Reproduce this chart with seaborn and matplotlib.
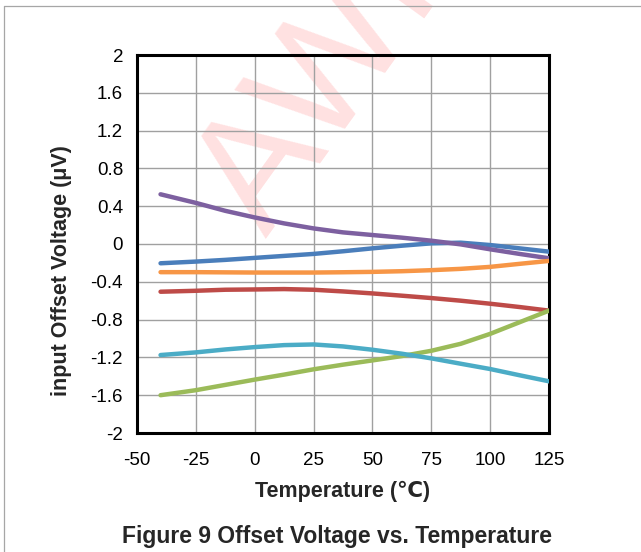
import matplotlib
matplotlib.use("Agg")
import matplotlib.pyplot as plt
import numpy as np
import pandas as pd
import seaborn as sns
from matplotlib.lines import Line2D

# Temperature sweep (°C) and offset voltage (µV) for six sample units
temperature = [-40, -25, -12.5, 0, 12.5, 25, 37.5, 50, 62.5, 75, 87.5, 100, 112.5, 125]
unit_blue = [-0.204, -0.186, -0.168, -0.147, -0.126, -0.105, -0.077, -0.046, -0.018, 0.007, 0.014, -0.011, -0.046, -0.081]
unit_red = [-0.505, -0.495, -0.484, -0.481, -0.477, -0.484, -0.502, -0.523, -0.547, -0.572, -0.600, -0.632, -0.667, -0.705]
unit_green = [-1.600, -1.547, -1.491, -1.435, -1.382, -1.326, -1.277, -1.232, -1.186, -1.130, -1.056, -0.951, -0.828, -0.705]
unit_purple = [0.526, 0.435, 0.351, 0.281, 0.218, 0.165, 0.123, 0.095, 0.067, 0.035, -0.004, -0.056, -0.105, -0.151]
unit_cyan = [-1.175, -1.147, -1.116, -1.091, -1.070, -1.063, -1.084, -1.119, -1.161, -1.210, -1.267, -1.323, -1.389, -1.453]
unit_orange = [-0.298, -0.298, -0.300, -0.302, -0.302, -0.302, -0.299, -0.295, -0.288, -0.277, -0.263, -0.242, -0.210, -0.179]

series_names = ["Unit 1", "Unit 2", "Unit 3", "Unit 4", "Unit 5", "Unit 6"]
series_values = [unit_blue, unit_red, unit_green, unit_purple, unit_cyan, unit_orange]
series_colors = ["#4A7EBB", "#BE4B48", "#9BBB59", "#7D60A0", "#4BACC6", "#F79646"]

x_ticks = [-50, -25, 0, 25, 50, 75, 100, 125]
y_ticks = [-2, -1.6, -1.2, -0.8, -0.4, 0, 0.4, 0.8, 1.2, 1.6, 2]
y_tick_labels = ["-2", "-1.6", "-1.2", "-0.8", "-0.4", "0", "0.4", "0.8", "1.2", "1.6", "2"]

frames = [pd.DataFrame({"Temperature": temperature, "Offset": vals, "Unit": name})
          for name, vals in zip(series_names, series_values)]
df = pd.concat(frames, ignore_index=True)

sns.set_theme(style="white")
plt.rcParams["font.family"] = ["Liberation Sans", "DejaVu Sans"]

W, H = 641, 552
fig = plt.figure(figsize=(W / 100, H / 100), dpi=100)
ax = fig.add_axes([137 / W, 1 - 433 / H, 412 / W, 378 / H])

sns.lineplot(data=df, x="Temperature", y="Offset", hue="Unit",
             hue_order=series_names, palette=dict(zip(series_names, series_colors)),
             linewidth=3.2, legend=False, sort=False, ax=ax,
             solid_capstyle="round", solid_joinstyle="round", zorder=3)

ax.set_xlim(-50, 125)
ax.set_ylim(-2, 2)
ax.set_xticks(x_ticks)
ax.set_xticklabels([str(v) for v in x_ticks])
ax.set_yticks(y_ticks)
ax.set_yticklabels(y_tick_labels)
ax.tick_params(axis="both", length=0, labelsize=13.5, colors="black")
ax.tick_params(axis="x", pad=13.5)
ax.tick_params(axis="y", pad=10)

ax.set_axisbelow(True)
ax.grid(True, color="#A0A0A0", linewidth=1.0)
for spine in ax.spines.values():
    spine.set_visible(True)
    spine.set_color("black")
    spine.set_linewidth(2.2)

ax.set_xlabel("Temperature (℃)", fontsize=15.5, fontweight="bold")
ax.set_ylabel("input Offset Voltage (μV)", fontsize=15.5, fontweight="bold")
ax.xaxis.set_label_coords(0.5, -0.127)
ax.yaxis.set_label_coords(-0.158, 0.431)

# Caption under the chart
fig.text(337 / W, 1 - 543 / H, "Figure 9 Offset Voltage vs. Temperature",
         ha="center", va="baseline", fontsize=16.5, fontweight="bold")

# Faint diagonal watermark behind the grid
ax.text(266 / W, 1 - 239 / H, "AWINIC", transform=fig.transFigure,
        rotation=54.3, rotation_mode="anchor", ha="left", va="baseline",
        fontsize=118, color="#FF0000", alpha=0.12, clip_on=False, zorder=0.1)

# Page frame lines (top and left)
frame_color = "#A6A6A6"
fig.add_artist(Line2D([4 / W, 1], [1 - 6 / H, 1 - 6 / H], transform=fig.transFigure,
                      color=frame_color, linewidth=0.9))
fig.add_artist(Line2D([4 / W, 4 / W], [0, 1 - 6 / H], transform=fig.transFigure,
                      color=frame_color, linewidth=0.9))

fig.savefig("out.png", dpi=100)
